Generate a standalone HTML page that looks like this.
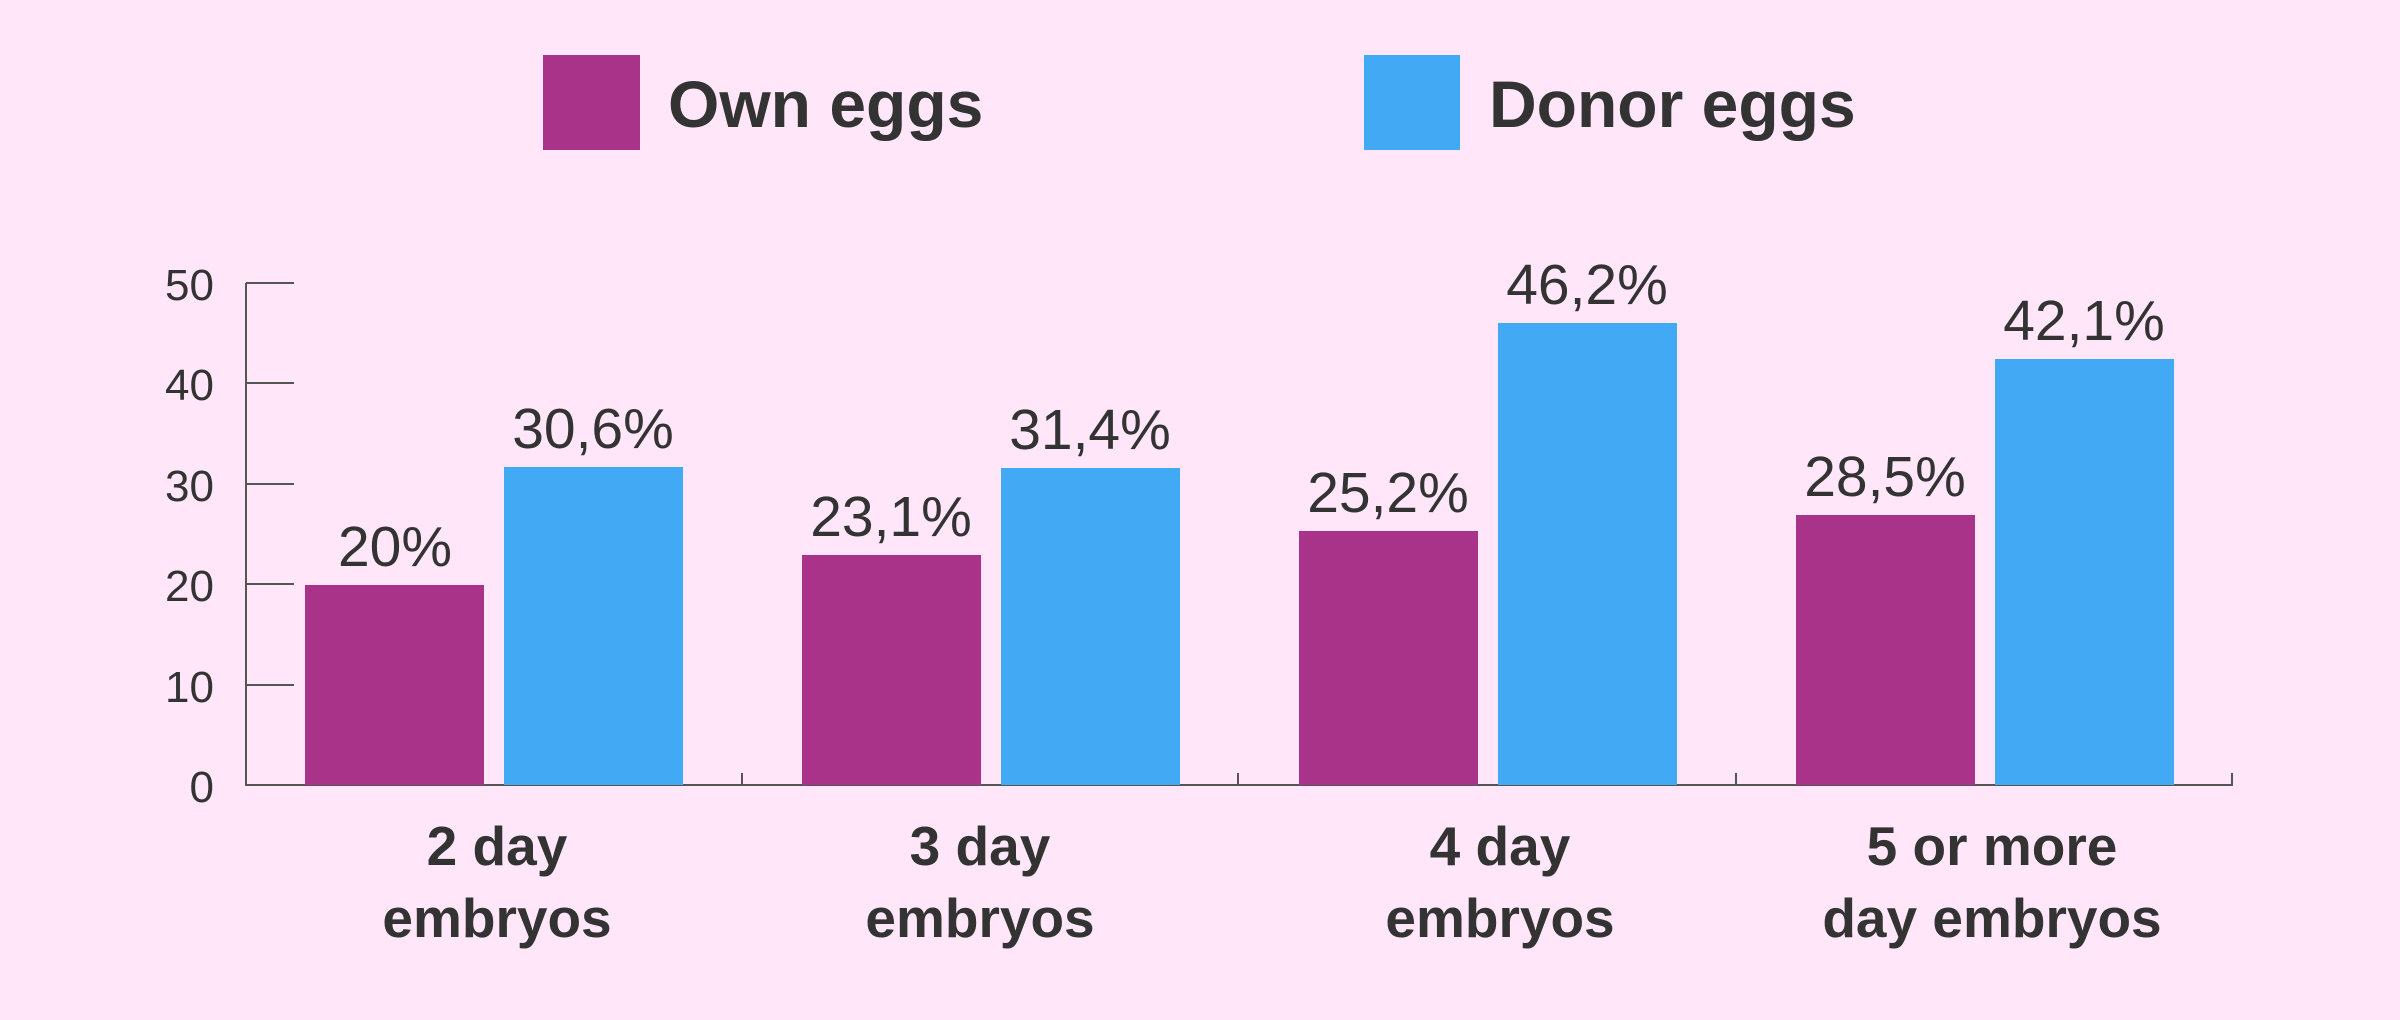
<!DOCTYPE html>
<html><head><style>html,body{margin:0;padding:0;background:#FFE6F9;}</style></head>
<body>
<svg width="2400" height="1020" xmlns="http://www.w3.org/2000/svg" style="display:block">
<rect width="2400" height="1020" fill="#FFE6F9"/>
<g font-family="Liberation Sans, sans-serif" fill="#333">
<rect x="543" y="55" width="97" height="95" fill="#A83388"/>
<text x="668" y="127" font-size="66" font-weight="bold">Own eggs</text>
<rect x="1364" y="55" width="96" height="95" fill="#42AAF5"/>
<text x="1489" y="127" font-size="66" font-weight="bold">Donor eggs</text>
</g>
<g stroke="#555" stroke-width="2" fill="none">
<line x1="246" y1="283" x2="246" y2="786"/>
<line x1="246" y1="785" x2="2233" y2="785"/>
<line x1="246" y1="283" x2="294" y2="283"/>
<line x1="246" y1="383" x2="294" y2="383"/>
<line x1="246" y1="484" x2="294" y2="484"/>
<line x1="246" y1="584" x2="294" y2="584"/>
<line x1="246" y1="685" x2="294" y2="685"/>
<line x1="742" y1="773" x2="742" y2="785"/>
<line x1="1238" y1="773" x2="1238" y2="785"/>
<line x1="1736" y1="773" x2="1736" y2="785"/>
<line x1="2232" y1="773" x2="2232" y2="785"/>
</g>
<g font-family="Liberation Sans, sans-serif" fill="#333" font-size="44" text-anchor="end">
<text x="214" y="300">50</text><text x="214" y="400">40</text><text x="214" y="501">30</text>
<text x="214" y="601">20</text><text x="214" y="702">10</text><text x="214" y="802">0</text>
</g>
<g>
<rect x="305" y="585" width="179" height="200" fill="#A83388"/>
<rect x="504" y="467" width="179" height="318" fill="#42AAF5"/>
<rect x="802" y="555" width="179" height="230" fill="#A83388"/>
<rect x="1001" y="468" width="179" height="317" fill="#42AAF5"/>
<rect x="1299" y="531" width="179" height="254" fill="#A83388"/>
<rect x="1498" y="323" width="179" height="462" fill="#42AAF5"/>
<rect x="1796" y="515" width="179" height="270" fill="#A83388"/>
<rect x="1995" y="359" width="179" height="426" fill="#42AAF5"/>
</g>
<g font-family="Liberation Sans, sans-serif" fill="#333" font-size="57" text-anchor="middle">
<text x="395" y="566">20%</text>
<text x="593" y="448">30,6%</text>
<text x="891" y="536">23,1%</text>
<text x="1090" y="449">31,4%</text>
<text x="1388" y="512">25,2%</text>
<text x="1587" y="304">46,2%</text>
<text x="1885" y="496">28,5%</text>
<text x="2084" y="340">42,1%</text>
</g>
<g font-family="Liberation Sans, sans-serif" fill="#333" font-size="55" font-weight="bold" text-anchor="middle">
<text x="497" y="865">2 day</text><text x="497" y="937">embryos</text>
<text x="980" y="865">3 day</text><text x="980" y="937">embryos</text>
<text x="1500" y="865">4 day</text><text x="1500" y="937">embryos</text>
<text x="1992" y="865">5 or more</text><text x="1992" y="937">day embryos</text>
</g>
</svg>
</body></html>
